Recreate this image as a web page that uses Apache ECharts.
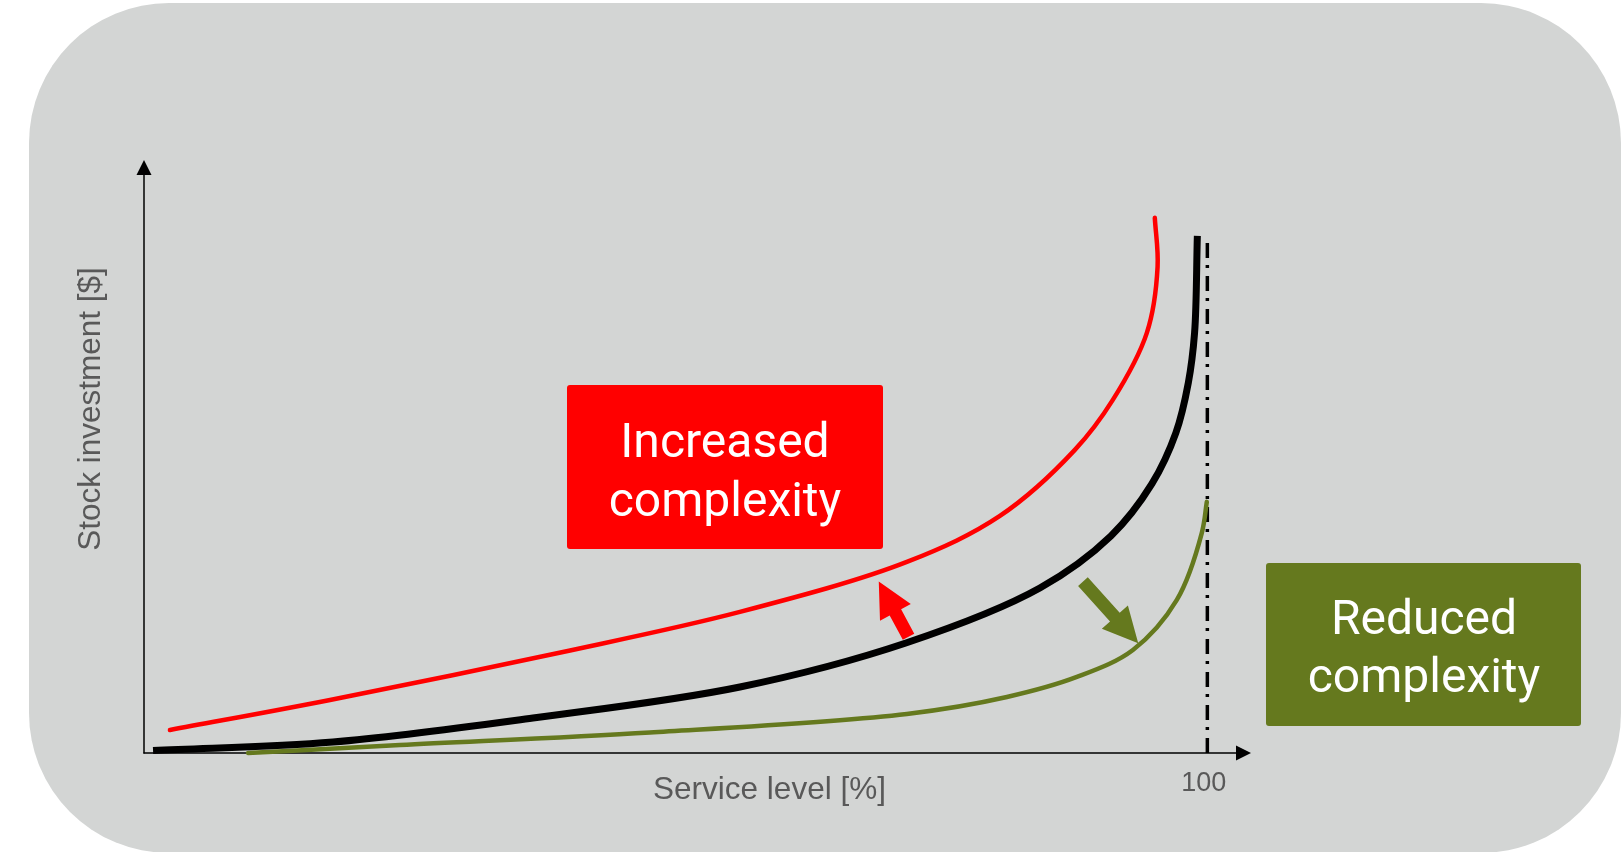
<!DOCTYPE html>
<html>
<head>
<meta charset="utf-8">
<script src="https://cdn.jsdelivr.net/npm/echarts@6/dist/echarts.min.js"></script>
<style>
html,body{margin:0;padding:0;background:#ffffff;}
#bg{position:absolute;left:29px;top:3px;width:1592px;height:850px;background:#d3d5d4;border-radius:140px;}
#chart{position:absolute;left:0;top:0;width:1621px;height:852px;}
</style>
</head>
<body>
<div id="bg"></div>
<div id="chart"></div>
<script>
// Service level (x) / stock investment (y)
const baseX  = [0.85, 17.77, 36.58, 56.04, 71.65, 84.25, 90.93, 94.78, 97.04, 98.21, 98.80, 99.06];
const baseY  = [0.42, 1.85, 5.90, 11.13, 18.55, 27.82, 36.59, 45.36, 53.96, 62.39, 70.83, 87.18];
const highX  = [2.44, 17.49, 39.40, 56.04, 71.74, 80.49, 87.54, 91.11, 94.31, 95.32, 95.06];
const highY  = [3.88, 8.94, 17.03, 23.78, 32.21, 39.97, 51.10, 59.53, 70.83, 81.96, 90.22];
const lowX   = [9.78, 24.07, 47.58, 71.74, 81.15, 87.73, 93.0, 97.13, 99.48, 99.95];
const lowY   = [0.0, 1.35, 3.46, 6.58, 9.44, 12.82, 17.37, 25.80, 37.10, 42.33];
const limitX = [100, 100];
const limitY = [0, 87.2];
const xTickLabels = ['100'];
// annotation arrows: [tailX, tailY, tipX, tipY]
const upArrow   = [71.9, 19.6, 69.1, 28.9];
const downArrow = [88.3, 28.9, 93.5, 18.5];

const zip = (xs, ys) => xs.map((x, i) => [x, ys[i]]);

const chart = echarts.init(document.getElementById('chart'));

// smooth curve (centripetal Catmull-Rom) through the data points, positioned with the axis scales
function curveItem(points, color, width, cap) {
  return function (params, api) {
    if (params.dataIndex !== 0) return null;
    const p = points.map(d => api.coord(d));
    const n = p.length;
    const ext = [
      [2 * p[0][0] - p[1][0], 2 * p[0][1] - p[1][1]],
      ...p,
      [2 * p[n - 1][0] - p[n - 2][0], 2 * p[n - 1][1] - p[n - 2][1]]
    ];
    const dist = (a, b) => Math.pow(Math.hypot(b[0] - a[0], b[1] - a[1]), 0.5) || 1e-6;
    let d = 'M' + p[0][0] + ' ' + p[0][1];
    for (let i = 1; i < ext.length - 2; i++) {
      const P0 = ext[i - 1], P1 = ext[i], P2 = ext[i + 1], P3 = ext[i + 2];
      const a1 = dist(P0, P1), a2 = dist(P1, P2), a3 = dist(P2, P3);
      const A = a1 * a1, B = a2 * a2, C = a3 * a3;
      const c1 = [0, 1].map(k => (A * P2[k] - B * P0[k] + (2 * A + 3 * a1 * a2 + B) * P1[k]) / (3 * a1 * (a1 + a2)));
      const c2 = [0, 1].map(k => (C * P1[k] - B * P3[k] + (2 * C + 3 * a3 * a2 + B) * P2[k]) / (3 * a3 * (a3 + a2)));
      d += ' C' + c1[0] + ' ' + c1[1] + ' ' + c2[0] + ' ' + c2[1] + ' ' + P2[0] + ' ' + P2[1];
    }
    return { type: 'path', shape: { pathData: d },
      style: { fill: 'none', stroke: color, lineWidth: width, lineCap: cap, lineJoin: 'round' } };
  };
}

function arrowItem(color) {
  return function (params, api) {
    const a = api.coord([api.value(0), api.value(1)]);
    const b = api.coord([api.value(2), api.value(3)]);
    const dx = b[0] - a[0], dy = b[1] - a[1];
    const len = Math.sqrt(dx * dx + dy * dy);
    const ux = dx / len, uy = dy / len;
    const nx = -uy, ny = ux;
    const shaft = 6.5, head = 17.5, headLen = 35;
    const bx = b[0] - ux * headLen, by = b[1] - uy * headLen;
    const pts = [
      [a[0] + nx * shaft, a[1] + ny * shaft],
      [bx + nx * shaft, by + ny * shaft],
      [bx + nx * head, by + ny * head],
      [b[0], b[1]],
      [bx - nx * head, by - ny * head],
      [bx - nx * shaft, by - ny * shaft],
      [a[0] - nx * shaft, a[1] - ny * shaft]
    ];
    return { type: 'polygon', shape: { points: pts }, style: { fill: color } };
  };
}

const labelFont = 'Liberation Sans, Arial, sans-serif';
const basePts = zip(baseX, baseY), highPts = zip(highX, highY), lowPts = zip(lowX, lowY);

chart.setOption({
  backgroundColor: 'transparent',
  animation: false,
  grid: { left: 144, right: 377.5, top: 167.5, bottom: 99, containLabel: false },
  xAxis: {
    type: 'value', min: 0, max: 103.4, interval: 100,
    axisLine: { show: true, onZero: false, lineStyle: { color: '#000', width: 1.5 }, symbol: ['none', 'triangle'], symbolSize: [15, 15] },
    axisTick: { show: false },
    splitLine: { show: false },
    axisLabel: {
      margin: 17, color: '#595959', fontSize: 27, fontFamily: labelFont, padding: [0, 7, 0, 0],
      formatter: v => (Math.abs(v - 100) < 1e-6 ? xTickLabels[0] : '')
    }
  },
  yAxis: {
    type: 'value', min: 0, max: 98.7,
    axisLine: { show: true, onZero: false, lineStyle: { color: '#000', width: 1.5 }, symbol: ['none', 'triangle'], symbolSize: [15, 15] },
    axisTick: { show: false },
    splitLine: { show: false },
    axisLabel: { show: false }
  },
  series: [
    { type: 'line', data: zip(limitX, limitY), symbol: 'none', silent: true,
      lineStyle: { color: '#000', width: 3.5, type: [15, 8, 3, 7] }, z: 1 },
    { type: 'custom', data: lowPts, renderItem: curveItem(lowPts, '#65791e', 4.5, 'round'), silent: true, clip: false, z: 2 },
    { type: 'custom', data: basePts, renderItem: curveItem(basePts, '#000000', 7, 'butt'), silent: true, clip: false, z: 3 },
    { type: 'custom', data: highPts, renderItem: curveItem(highPts, '#ff0000', 4.5, 'round'), silent: true, clip: false, z: 3 },
    { type: 'custom', renderItem: arrowItem('#ff0000'), data: [upArrow], silent: true, z: 5 },
    { type: 'custom', renderItem: arrowItem('#65791e'), data: [downArrow], silent: true, z: 5 }
  ],
  graphic: [
    { type: 'text', x: 769.5, y: 790, silent: true,
      style: { text: 'Service level [%]', fill: '#595959', font: '31.5px ' + labelFont, textAlign: 'center', textVerticalAlign: 'middle' } },
    { type: 'text', x: 91, y: 409, rotation: Math.PI / 2, silent: true,
      style: { text: 'Stock investment [$]', fill: '#595959', font: '31.5px ' + labelFont, textAlign: 'center', textVerticalAlign: 'middle' } },
    { type: 'rect', shape: { x: 567, y: 385, width: 316, height: 164, r: 3 }, style: { fill: '#ff0000' }, z: 100, silent: true },
    { type: 'text', x: 725, y: 474, z: 101, silent: true,
      style: { text: 'Increased\ncomplexity', fill: '#ffffff', font: '48px Roboto', lineHeight: 59, textAlign: 'center', textVerticalAlign: 'middle' } },
    { type: 'rect', shape: { x: 1266, y: 563, width: 315, height: 163, r: 3 }, style: { fill: '#65791e' }, z: 100, silent: true },
    { type: 'text', x: 1424, y: 651, z: 101, silent: true,
      style: { text: 'Reduced\ncomplexity', fill: '#ffffff', font: '48px Roboto', lineHeight: 58, textAlign: 'center', textVerticalAlign: 'middle' } }
  ]
});
</script>
</body>
</html>
